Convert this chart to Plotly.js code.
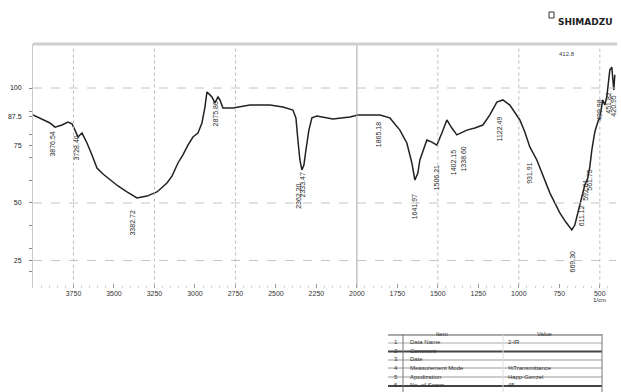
<!DOCTYPE html>
<html><head><meta charset="utf-8">
<script src="https://cdn.plot.ly/plotly-3.0.1.min.js"></script>
<style>html,body{margin:0;padding:0;background:#fff}#chart{width:621px;height:392px}</style>
</head><body><div id="chart"></div>
<script>
// ---- data ----
const wavenumber = [4000,3944.4,3895.1,3864.2,3821.0,3784.0,3759.3,3740.7,3722.2,3697.5,3666.7,3635.8,3604.9,3567.9,3524.7,3475.3,3419.8,3358.0,3296.3,3234.6,3172.8,3141.9,3104.9,3074.1,3043.2,3012.3,2981.5,2956.8,2938.3,2925.9,2907.4,2895.1,2876.5,2858.0,2845.7,2827.2,2765.4,2660.5,2537.0,2456.8,2395.1,2376.5,2364.2,2351.9,2339.5,2327.2,2314.8,2296.3,2277.8,2246.9,2148.1,2043.2,1993.8,1858.0,1796.3,1734.6,1691.4,1660.5,1642.0,1623.5,1611.1,1592.6,1567.9,1537.0,1506.2,1475.3,1444.4,1413.6,1382.7,1321.0,1271.6,1222.2,1179.0,1135.8,1098.8,1055.6,1024.7,993.8,963.0,932.1,888.9,851.9,808.6,746.9,709.9,672.8,654.3,642.0,623.5,611.1,592.6,574.1,561.7,549.4,530.9,512.3,500.0,481.5,469.1,456.8,444.4,438.3,425.9,419.8,413.6,407.4];
const transmittance = [88.3,86.5,84.8,83.0,83.9,85.2,84.4,81.7,78.7,80.4,76.1,70.9,65.2,62.6,60.0,57.4,54.8,52.2,53.0,54.8,58.7,61.7,67.4,70.9,75.2,78.7,80.4,84.8,91.7,98.3,97.0,96.1,93.5,96.1,94.8,91.3,91.3,92.6,92.6,91.7,90.4,87.0,77.4,68.7,64.4,66.5,73.0,81.7,87.0,87.8,86.5,87.4,88.3,88.3,87.0,81.7,76.1,67.4,60.0,63.0,68.7,72.2,77.4,76.5,75.2,80.4,86.1,82.6,79.6,81.7,82.6,83.9,88.3,93.9,94.8,92.6,89.6,86.1,80.9,74.4,68.7,62.2,54.4,45.7,41.7,38.3,40.4,43.9,49.1,52.6,57.8,60.9,65.7,73.0,80.9,85.2,87.4,94.8,92.6,96.1,103.5,107.8,109.1,103.5,99.1,105.7];
const xTickValues = [3750,3500,3250,3000,2750,2500,2250,2000,1750,1500,1250,1000,750,500];
const xTickLabels = ["3750","3500","3250","3000","2750","2500","2250","2000","1750","1500","1250","1000","750","500"];
const yTickValues = [100,90,87.5,80,75,70,60,50,40,30,25,20];
const yTickLabels = ["100","","87.5","","75","","","50","","","25",""];
const peakWavenumbers = [3876.5,3728.4,3382.7,2875.9,2362.2,2333.5,1865.2,1642.0,1506.2,1402.2,1338.6,1122.5,931.9,669.3,611.1,592.6,561.8,500.0,451.8,421.0];
const peakLabels = ["3876.54","3728.40","3382.72","2875.86","2362.20","2333.47","1865.18","1641.97","1506.21","1402.15","1338.60","1122.49","931.91","669.30","611.12","592.61","561.75","499.98","451.82","420.95"];
const tableNumbers = ["1","2","3","4","5","6"];
const tableItems = ["Data Name","Comment","Date","Measurement Mode","Apodization","No. of Scans"];
const tableValues = ["2-IR","","","%Transmittance","Happ-Genzel","45"];

// ---- layout helpers ----
const L=33, R=616, T=44, B=288;
const px = x => (x-L)/(R-L);
const py = y => (B-y)/(B-T);
const labelTopT = [81.7,80.4,47.8,94.8,59.1,64.3,86.1,54.8,67.4,73.9,75.2,88.3,68.7,30.4,50.0,61.3,65.7,96.1,99.1,97.8];

const shapes = [];
const annotations = [];
[3750,3250,2750,1500,1000,500].forEach(v=>shapes.push({type:'line',xref:'x',yref:'paper',x0:v,x1:v,y0:0.01,y1:1,line:{color:'#bdbdbd',width:1,dash:'dot'}}));
shapes.push({type:'line',xref:'x',yref:'paper',x0:2000,x1:2000,y0:0,y1:1,line:{color:'#a8a8a8',width:1}});
[100,50,25].forEach(v=>shapes.push({type:'line',xref:'paper',yref:'y',x0:0,x1:1,y0:v,y1:v,line:{color:'#c4c4c4',width:1,dash:'dash'}}));
shapes.push({type:'line',xref:'paper',yref:'paper',x0:0,x1:1.002,y0:1,y1:1,line:{color:'#cfcfcf',width:3}});

peakWavenumbers.forEach((w,i)=>annotations.push({x:w,y:labelTopT[i],xref:'x',yref:'y',text:peakLabels[i],textangle:-90,showarrow:false,yanchor:'top',xanchor:'center',font:{family:'Liberation Sans',size:7,color:'#2a2a2a'}}));
annotations.push({x:px(577),y:py(49),xref:'paper',yref:'paper',text:'412.8',showarrow:false,font:{family:'Liberation Sans',size:6,color:'#444'}});
annotations.push({x:px(608),y:py(305),xref:'paper',yref:'paper',text:'1/cm',showarrow:false,font:{family:'Liberation Sans',size:6,color:'#333'}});
shapes.push({type:'rect',xref:'paper',yref:'paper',x0:px(549),x1:px(554),y0:py(18),y1:py(12),line:{color:'#333',width:1},fillcolor:'#fff'});
annotations.push({x:px(556),y:py(15),xref:'paper',yref:'paper',xanchor:'left',text:'<b>SHIMADZU</b>',showarrow:false,font:{family:'DejaVu Sans',size:9,color:'#222'}});

const tL=388, tR=602, cNum=403, cVal=503;
const rowY=[347,356,364,373,382,390];
shapes.push({type:'line',xref:'paper',yref:'paper',x0:px(tL),x1:px(tR),y0:py(335),y1:py(335),line:{color:'#aaa',width:2}});
shapes.push({type:'line',xref:'paper',yref:'paper',x0:px(tL),x1:px(tR),y0:py(343),y1:py(343),line:{color:'#aaa',width:1}});
shapes.push({type:'line',xref:'paper',yref:'paper',x0:px(tL),x1:px(tR),y0:py(351.5),y1:py(351.5),line:{color:'#444',width:2}});
shapes.push({type:'line',xref:'paper',yref:'paper',x0:px(tL),x1:px(tR),y0:py(360),y1:py(360),line:{color:'#999',width:1}});
shapes.push({type:'line',xref:'paper',yref:'paper',x0:px(tL),x1:px(tR),y0:py(368),y1:py(368),line:{color:'#999',width:1}});
shapes.push({type:'line',xref:'paper',yref:'paper',x0:px(tL),x1:px(tR),y0:py(377),y1:py(377),line:{color:'#999',width:1}});
shapes.push({type:'line',xref:'paper',yref:'paper',x0:px(tL),x1:px(tR),y0:py(386),y1:py(386),line:{color:'#444',width:2}});
[cNum,tR].forEach(x=>shapes.push({type:'line',xref:'paper',yref:'paper',x0:px(x),x1:px(x),y0:py(334),y1:py(392),line:{color:'#777',width:1}}));
shapes.push({type:'line',xref:'paper',yref:'paper',x0:px(cVal),x1:px(cVal),y0:py(335),y1:py(392),line:{color:'#ddd',width:1}});
annotations.push({x:px(450),y:py(339),xref:'paper',yref:'paper',text:'Item',showarrow:false,font:{family:'Liberation Sans',size:6,color:'#333'}});
annotations.push({x:px(555),y:py(339),xref:'paper',yref:'paper',text:'Value',showarrow:false,font:{family:'Liberation Sans',size:6,color:'#333'}});
tableItems.forEach((it,i)=>{
  annotations.push({x:px(392),y:py(rowY[i]),xref:'paper',yref:'paper',text:tableNumbers[i],showarrow:false,xanchor:'left',font:{family:'Liberation Sans',size:6,color:'#333'}});
  annotations.push({x:px(408),y:py(rowY[i]),xref:'paper',yref:'paper',text:it,showarrow:false,xanchor:'left',font:{family:'Liberation Sans',size:6,color:'#333'}});
  if(tableValues[i]) annotations.push({x:px(506),y:py(rowY[i]),xref:'paper',yref:'paper',text:tableValues[i],showarrow:false,xanchor:'left',font:{family:'Liberation Sans',size:6,color:'#333'}});
});

const trace = {x:wavenumber,y:transmittance,type:'scatter',mode:'lines',line:{color:'#222',width:1.5},hoverinfo:'skip'};
const layout = {
  width:621,height:392,margin:{l:L,r:621-R,t:T,b:392-B},
  paper_bgcolor:'#fff',plot_bgcolor:'#fff',showlegend:false,
  xaxis:{range:[4000,400],showgrid:false,zeroline:false,showline:false,
    tickmode:'array',tickvals:xTickValues,ticktext:xTickLabels,ticks:'inside',ticklen:4,tickcolor:'#999',
    minor:{dtick:50,ticks:'inside',ticklen:2,tickcolor:'#ccc',showgrid:false},
    tickfont:{family:'Liberation Sans',size:7,color:'#333'}},
  yaxis:{range:[13.04,119.13],showgrid:false,zeroline:false,showline:true,linecolor:'#c8c8c8',linewidth:1,
    tickmode:'array',tickvals:yTickValues,ticktext:yTickLabels,ticks:'outside',ticklen:3,tickcolor:'#888',
    ticklabelstandoff:6,tickfont:{family:'Liberation Sans',size:7,color:'#222'}},
  shapes:shapes,annotations:annotations
};
Plotly.newPlot('chart',[trace],layout,{staticPlot:true});
</script></body></html>
